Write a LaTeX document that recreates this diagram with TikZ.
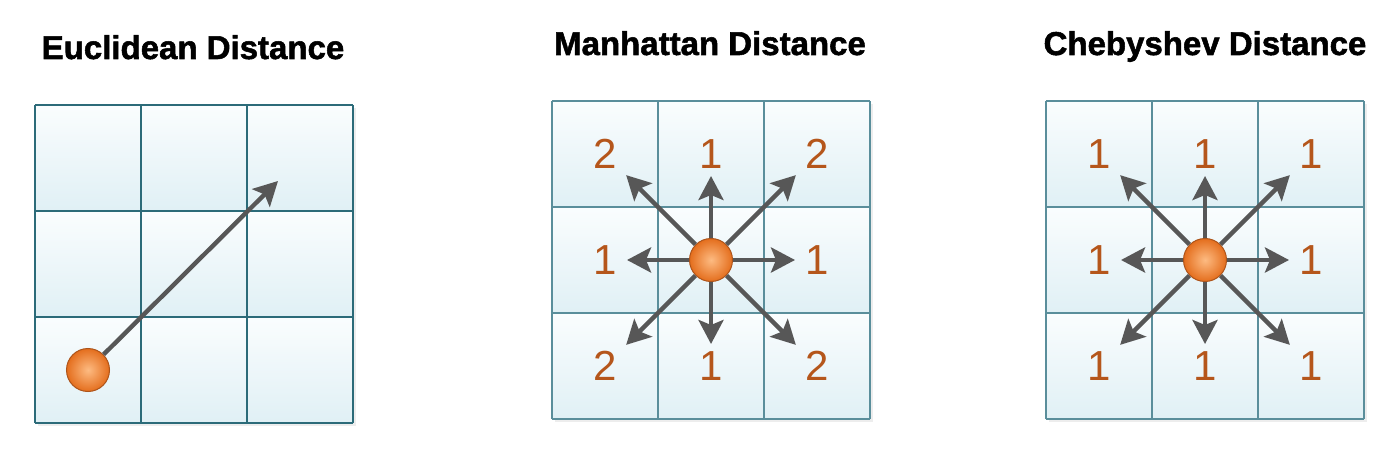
\documentclass[tikz,border=0pt]{standalone}
\usepackage{fontspec}
\setmainfont{Liberation Sans}
\newfontfamily\heavyfont[BoldFeatures={FakeBold=1.6}]{Liberation Sans}
\usetikzlibrary{arrows.meta}
\definecolor{gridTeal}{HTML}{2C6B79}
\definecolor{gridSoft}{HTML}{5A8E9B}
\definecolor{cellTop}{HTML}{FAFDFE}
\definecolor{cellBot}{HTML}{E0F0F5}
\definecolor{rayGray}{HTML}{575757}
\definecolor{numOrange}{HTML}{B5561B}
\definecolor{ballLight}{HTML}{FDBB82}
\definecolor{ballDark}{HTML}{E46E1D}
\definecolor{ballEdge}{HTML}{AD541A}

\begin{document}
\begin{tikzpicture}[x=0.5pt,y=0.5pt,
  cell/.style={top color=cellTop,bottom color=cellBot},
  title/.style={anchor=base,font=\heavyfont\bfseries\fontsize{16.5}{19}\selectfont},
  num/.style={text=numOrange,inner sep=0pt,font=\fontsize{21}{24}\selectfont},
  ball/.style={circle,minimum size=21.5pt,inner sep=0pt,draw=ballEdge,line width=0.5pt,
    inner color=ballLight,outer color=ballDark},
  ray/.style={-{Stealth[length=12pt,width=12.5pt,inset=2.5pt]},rayGray,line width=2.2pt}]
  \useasboundingbox (0,0) rectangle (1400,450);
  % cells and grids
  \foreach \ox/\oy/\gw/\gc in {35/27/1.3pt/gridTeal, 552/31/0.8pt/gridSoft, 1046/31/0.8pt/gridSoft} {
    \begin{scope}[shift={(\ox,\oy)}]
      \fill[black!7] (3,-3) rectangle (321,315);
      \foreach \i in {0,1,2}
        \foreach \j in {0,1,2}
          \shade[cell] (106*\i,106*\j) rectangle ++(106,106);
      \draw[draw=\gc,line width=\gw] (0,0) grid[step=106] (318,318);
    \end{scope}
  }
  % titles
  \node[title] (titleE) at (193,391) {Euclidean Distance};
  \node[title] (titleM) at (710,395) {Manhattan Distance};
  \node[title] (titleC) at (1205,395) {Chebyshev Distance};
  % euclidean
  \coordinate (tipE) at (278,269);
  \node[ball] (ballE) at (88,80) {};
  \draw[ray] (ballE) -- (tipE);
  % manhattan and chebyshev
  \foreach \p/\cx in {M/711, C/1205} {
    \node[ball] (ball\p) at (\cx,190) {};
    \foreach \a in {0,90,180,270}
      \coordinate (tip\p-\a) at ([shift={(\a:84)}]\cx,190);
    \foreach \a in {45,135,225,315}
      \coordinate (tip\p-\a) at ([shift={(\a:120)}]\cx,190);
    \foreach \a in {0,45,...,315}
      \draw[ray] (ball\p) -- (tip\p-\a);
  }
  \foreach \dx/\dy/\v [count=\k] in {-1/1/2, 0/1/1, 1/1/2, -1/0/1, 1/0/1, -1/-1/2, 0/-1/1, 1/-1/2}
    \node[num] (numM-\k) at (711+106*\dx,190+106*\dy) {\v};
  \foreach \dx/\dy [count=\k] in {-1/1, 0/1, 1/1, -1/0, 1/0, -1/-1, 0/-1, 1/-1}
    \node[num] (numC-\k) at (1205+106*\dx,190+106*\dy) {1};
\end{tikzpicture}
\end{document}
